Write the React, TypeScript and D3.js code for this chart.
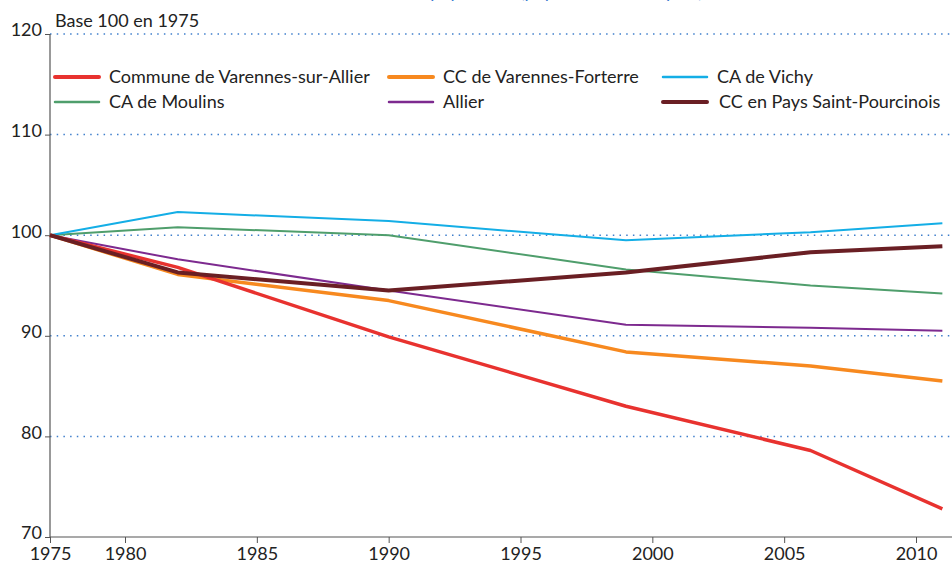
import * as d3 from 'd3';
import React, { useRef, useEffect } from 'react';

const years = [1975, 1982, 1990, 1999, 2006, 2011];
const tickYears = [1975, 1980, 1985, 1990, 1995, 2000, 2005, 2010];
const yTicks = [70, 80, 90, 100, 110, 120];

const varennes = [100, 96.8, 89.9, 83.0, 78.6, 72.8];
const forterre = [100, 96.1, 93.5, 88.4, 87.0, 85.5];
const vichy = [100, 102.3, 101.4, 99.5, 100.3, 101.2];
const moulins = [100, 100.8, 100.0, 96.6, 95.0, 94.2];
const allier = [100, 97.6, 94.5, 91.1, 90.8, 90.5];
const pourcinois = [100, 96.3, 94.5, 96.3, 98.3, 98.9];

const seriesNames = [
  'Commune de Varennes-sur-Allier',
  'CC de Varennes-Forterre',
  'CA de Vichy',
  'CA de Moulins',
  'Allier',
  'CC en Pays Saint-Pourcinois',
];

const W = 952;
const H = 567;
const font = 'Lato, "Open Sans", sans-serif';

const App = () => {
  const ref = useRef<SVGSVGElement>(null);

  useEffect(() => {
    const svg = d3.select(ref.current);
    svg.selectAll('*').remove();

    // compressed first segment like the original (1975 -> 1980 shorter)
    const x = d3.scaleLinear().domain([1975, 1980, 2010]).range([50, 125, 916]);
    const y = d3.scaleLinear().domain([70, 120]).range([537, 34]);

    const series = [
      { name: seriesNames[0], values: varennes, color: '#e8322f', w: 3.5 },
      { name: seriesNames[1], values: forterre, color: '#f7891f', w: 3.5 },
      { name: seriesNames[2], values: vichy, color: '#14aee6', w: 2 },
      { name: seriesNames[3], values: moulins, color: '#4f9e6c', w: 2 },
      { name: seriesNames[4], values: allier, color: '#7d2a8f', w: 2 },
      { name: seriesNames[5], values: pourcinois, color: '#6a1f24', w: 4 },
    ];

    // title (cut off at top, as in the original)
    svg.append('text')
      .attr('x', 506).attr('y', -2)
      .attr('text-anchor', 'middle')
      .attr('fill', '#3b7bd0')
      .style('font-family', font).style('font-size', '18px')
      .text('Évolution de la population (population municipale)');

    // grid
    svg.append('g')
      .selectAll('line')
      .data(yTicks.filter((d) => d > 70))
      .join('line')
      .attr('x1', 50).attr('x2', W)
      .attr('y1', (d) => y(d)).attr('y2', (d) => y(d))
      .attr('stroke', '#3f7fcc')
      .attr('stroke-width', 1.5)
      .attr('stroke-dasharray', '1.5,5.2');

    // y axis
    const yAxis = d3.axisLeft(y).tickValues(yTicks).tickSize(5).tickPadding(3);
    const gy = svg.append('g').attr('transform', 'translate(50,0)').call(yAxis);
    gy.select('.domain').remove();
    gy.selectAll('line').attr('stroke', '#555');
    gy.selectAll('text')
      .attr('fill', '#222')
      .style('font-family', font).style('font-size', '18px')
      .attr('dy', '0.1em');
    svg.append('line')
      .attr('x1', 50).attr('x2', 50).attr('y1', y(120)).attr('y2', y(70))
      .attr('stroke', '#555').attr('stroke-width', 1.2);

    // x axis
    const xAxis = d3.axisBottom(x).tickValues(tickYears).tickFormat(d3.format('d')).tickSize(6).tickPadding(4);
    const gx = svg.append('g').attr('transform', `translate(0,${y(70)})`).call(xAxis);
    gx.select('.domain').remove();
    gx.selectAll('line').attr('stroke', '#555');
    gx.selectAll('text')
      .attr('fill', '#222')
      .style('font-family', font).style('font-size', '18px');
    svg.append('line')
      .attr('x1', 50).attr('x2', W).attr('y1', y(70)).attr('y2', y(70))
      .attr('stroke', '#555').attr('stroke-width', 1.2);

    svg.append('text')
      .attr('x', 55).attr('y', 27)
      .attr('fill', '#222')
      .style('font-family', font).style('font-size', '18px')
      .text('Base 100 en 1975');

    // lines
    const line = d3.line<number>()
      .x((_, i) => x(years[i]))
      .y((d) => y(d));

    const drawOrder = [3, 2, 4, 1, 0, 5];
    svg.append('g')
      .selectAll('path')
      .data(drawOrder.map((i) => series[i]))
      .join('path')
      .attr('d', (s) => line(s.values))
      .attr('fill', 'none')
      .attr('stroke', (s) => s.color)
      .attr('stroke-width', (s) => s.w)
      .attr('stroke-linejoin', 'round');

    // legend
    const legendPos = [
      { x: 55, y: 77 },
      { x: 389, y: 77 },
      { x: 663, y: 77 },
      { x: 55, y: 102 },
      { x: 389, y: 102 },
      { x: 663, y: 102 },
    ];
    const lg = svg.append('g')
      .selectAll('g')
      .data(series)
      .join('g')
      .attr('transform', (_, i) => `translate(${legendPos[i].x},${legendPos[i].y})`);
    lg.append('line')
      .attr('x1', 0).attr('x2', 44)
      .attr('stroke', (s) => s.color)
      .attr('stroke-width', (s) => (s.w > 2 ? 4 : 2.5))
      .attr('stroke-linecap', 'round');
    lg.append('text')
      .attr('x', (_, i) => (i === 5 ? 56 : 54))
      .attr('y', 6)
      .attr('fill', '#222')
      .style('font-family', font).style('font-size', '18px')
      .text((s) => s.name);
  }, []);

  return (
    <svg
      ref={ref}
      width={W}
      height={H}
      style={{ position: 'absolute', left: 0, top: 0, background: '#fff' }}
    />
  );
};

export default App;
